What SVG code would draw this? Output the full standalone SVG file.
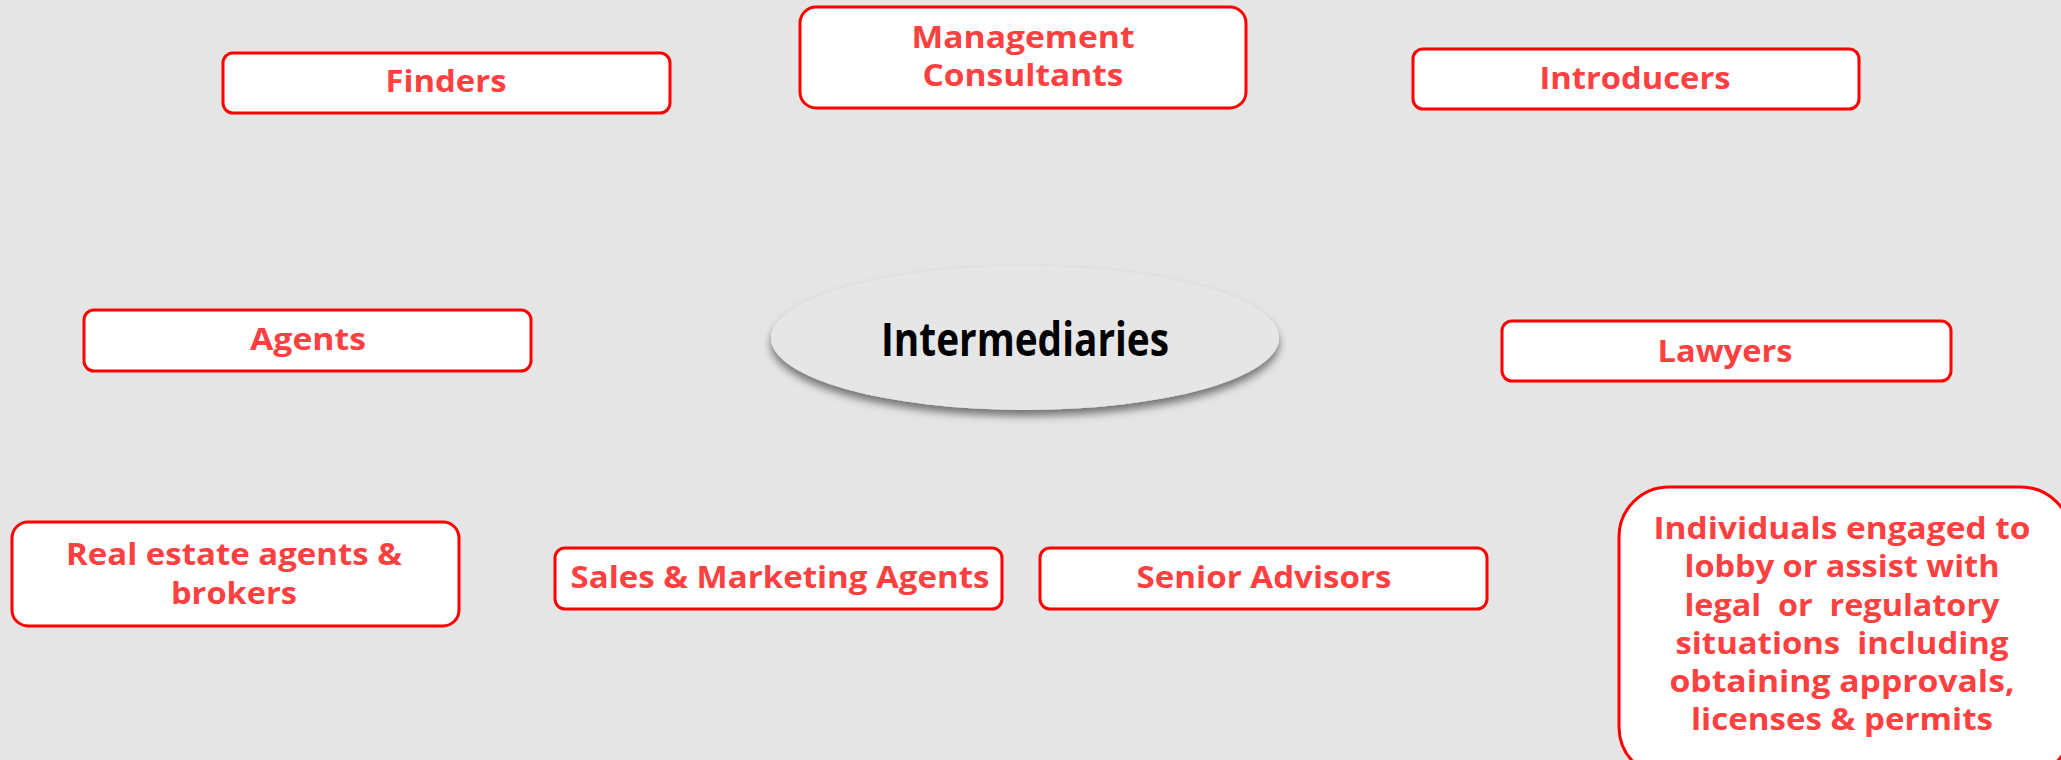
<svg xmlns="http://www.w3.org/2000/svg" width="2061" height="760" viewBox="0 0 2061 760">
<style>
.box{fill:#ffffff;stroke:#ff0000;stroke-width:3}
.t{font-family:"Open Sans","Liberation Sans",sans-serif;font-weight:700;font-size:31px;fill:#ff4040;text-anchor:middle}
.c{font-family:"Open Sans","Liberation Sans",sans-serif;font-weight:700;font-size:46px;fill:#000000;text-anchor:middle}
</style>
<defs>
<filter id="sh" x="-10%" y="-20%" width="120%" height="150%">
<feGaussianBlur in="SourceAlpha" stdDeviation="4"/>
<feOffset dx="0" dy="6" result="b"/>
<feComponentTransfer><feFuncA type="linear" slope="0.5"/></feComponentTransfer>
<feMerge><feMergeNode/><feMergeNode in="SourceGraphic"/></feMerge>
</filter>
</defs>
<rect width="2061" height="760" fill="#e5e5e5"/>
<g id="connectors"></g>
<g id="center">
<ellipse cx="1025" cy="338" rx="254" ry="72" fill="#e6e6e6" filter="url(#sh)"/>
<text class="c" x="1025" y="356" textLength="288" lengthAdjust="spacingAndGlyphs">Intermediaries</text>
</g>
<g id="finders">
<rect class="box" x="223" y="53" width="447" height="60" rx="10"/>
<text class="t" x="446" y="92" textLength="121" lengthAdjust="spacingAndGlyphs">Finders</text>
</g>
<g id="mgmt">
<rect class="box" x="800" y="7" width="446" height="101" rx="16"/>
<text class="t" x="1023" y="48" textLength="223" lengthAdjust="spacingAndGlyphs">Management</text>
<text class="t" x="1023" y="86" textLength="201" lengthAdjust="spacingAndGlyphs">Consultants</text>
</g>
<g id="introducers">
<rect class="box" x="1413" y="49" width="446" height="60" rx="10"/>
<text class="t" x="1635" y="89" textLength="191" lengthAdjust="spacingAndGlyphs">Introducers</text>
</g>
<g id="agents">
<rect class="box" x="84" y="310" width="447" height="61" rx="10"/>
<text class="t" x="308" y="350" textLength="116" lengthAdjust="spacingAndGlyphs">Agents</text>
</g>
<g id="lawyers">
<rect class="box" x="1502" y="321" width="449" height="60" rx="10"/>
<text class="t" x="1725" y="362" textLength="135" lengthAdjust="spacingAndGlyphs">Lawyers</text>
</g>
<g id="realestate">
<rect class="box" x="12" y="522" width="447" height="104" rx="16"/>
<text class="t" x="234" y="565" textLength="336" lengthAdjust="spacingAndGlyphs">Real estate agents &amp;</text>
<text class="t" x="234" y="604" textLength="126" lengthAdjust="spacingAndGlyphs">brokers</text>
</g>
<g id="sales">
<rect class="box" x="555" y="548" width="447" height="61" rx="10"/>
<text class="t" x="780" y="588" textLength="419" lengthAdjust="spacingAndGlyphs">Sales &amp; Marketing Agents</text>
</g>
<g id="senior">
<rect class="box" x="1040" y="548" width="447" height="61" rx="10"/>
<text class="t" x="1264" y="588" textLength="255" lengthAdjust="spacingAndGlyphs">Senior Advisors</text>
</g>
<g id="individuals">
<rect class="box" x="1619" y="487" width="452" height="290" rx="50"/>
<text class="t" x="1842" y="539" textLength="377" lengthAdjust="spacingAndGlyphs">Individuals engaged to</text>
<text class="t" x="1842" y="577" textLength="315" lengthAdjust="spacingAndGlyphs">lobby or assist with</text>
<text class="t" x="1842" y="616" textLength="315" lengthAdjust="spacingAndGlyphs" xml:space="preserve">legal  or  regulatory</text>
<text class="t" x="1842" y="654" textLength="333" lengthAdjust="spacingAndGlyphs" xml:space="preserve">situations  including</text>
<text class="t" x="1842" y="692" textLength="345" lengthAdjust="spacingAndGlyphs">obtaining approvals,</text>
<text class="t" x="1842" y="730" textLength="302" lengthAdjust="spacingAndGlyphs">licenses &amp; permits</text>
</g>
</svg>
